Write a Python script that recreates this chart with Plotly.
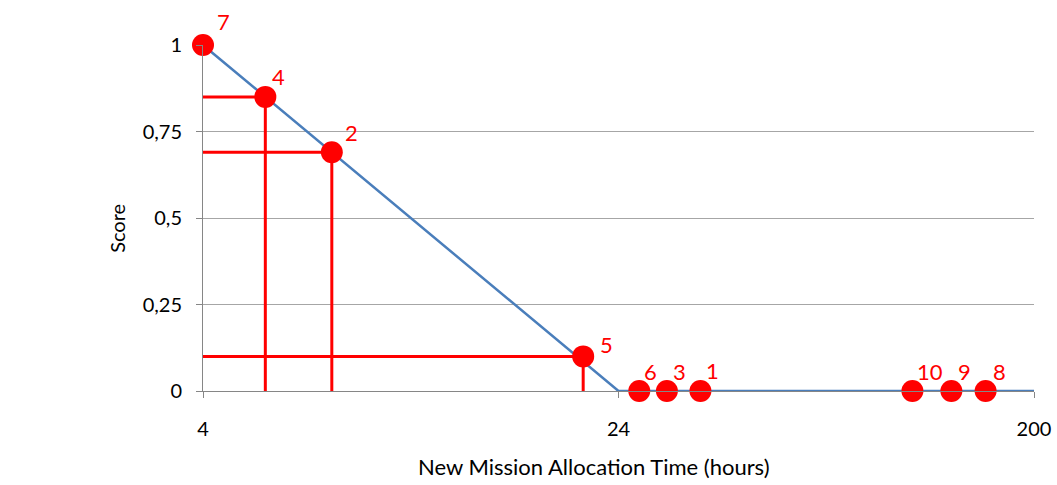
import numpy as np
import plotly.graph_objects as go

# ---- data ----
tick_hours = [4, 24, 200]
tick_labels = ["4", "24", "200"]
y_ticks = [0, 0.25, 0.5, 0.75, 1]
y_tick_labels = ["0", "0,25", "0,5", "0,75", "1"]

curve_hours = [4, 24, 200]
curve_score = [1, 0, 0]

point_ids = ["7", "4", "2", "5", "6", "3", "1", "10", "9", "8"]
point_hours = [4, 7, 10.2, 22.3, 32.8, 44.5, 58.7, 148.5, 165, 179.5]
point_score = [1, 0.85, 0.69, 0.1, 0, 0, 0, 0, 0, 0]

guide_ids = ["4", "2", "5"]

# ---- scale: piecewise axis (4 -> 24 -> 200 equally spaced) ----
tick_pos = list(range(len(tick_hours)))


def pos(h):
    return np.interp(h, tick_hours, tick_pos)


font = "Lato"
RED = "#ff0000"
BLUE = "#4a7ebb"

fig = go.Figure()

# guide lines
gx, gy = [], []
for pid in guide_ids:
    i = point_ids.index(pid)
    px = float(pos(point_hours[i]))
    sc = point_score[i]
    gx += [float(pos(tick_hours[0])), px, None, px, px, None]
    gy += [sc, sc, None, sc, -0.006, None]
fig.add_trace(go.Scatter(x=gx, y=gy, mode="lines",
                         line=dict(color=RED, width=3),
                         hoverinfo="skip", showlegend=False, cliponaxis=False))

# score curve
fig.add_trace(go.Scatter(x=pos(curve_hours), y=curve_score, mode="lines",
                         line=dict(color=BLUE, width=2.5),
                         showlegend=False, cliponaxis=False))

# points
fig.add_trace(go.Scatter(x=pos(point_hours), y=point_score, mode="markers",
                         marker=dict(color=RED, size=22),
                         showlegend=False, cliponaxis=False))

# point labels (offsets in px)
offsets = {"7": (20, 24), "4": (13, 20), "2": (20, 20), "5": (23, 12),
           "6": (11, 20), "3": (13, 20), "1": (12, 21), "10": (18, 20),
           "9": (13, 20), "8": (14, 20)}
for pid, h, s in zip(point_ids, point_hours, point_score):
    dx, dy = offsets[pid]
    fig.add_annotation(x=float(pos(h)), y=s, text=pid, showarrow=False,
                       xshift=dx, yshift=dy,
                       font=dict(family=font, size=22, color=RED))

fig.add_annotation(text="New Mission Allocation Time (hours)",
                   xref="paper", yref="paper", x=0.47, xanchor="center",
                   y=-0.219, yanchor="middle", showarrow=False,
                   font=dict(family=font, size=22, color="#000000"))
fig.add_annotation(text="Score", xref="paper", yref="paper",
                   x=-0.103, xanchor="center", y=0.47, yanchor="middle",
                   textangle=-90, showarrow=False,
                   font=dict(family=font, size=20, color="#000000"))

fig.update_layout(
    width=1057, height=485,
    margin=dict(l=203, r=23, t=45, b=94),
    paper_bgcolor="white", plot_bgcolor="white",
    font=dict(family=font, size=20, color="#000000"),
    xaxis=dict(range=[tick_pos[0], tick_pos[-1]], tickvals=tick_pos, ticktext=tick_labels,
               showgrid=False, zeroline=False, showline=True, linecolor="#868686",
               linewidth=1, ticks="outside", ticklen=6, tickcolor="#868686",
               ticklabelstandoff=14, automargin=False),
    yaxis=dict(range=[0, 1], tickvals=y_ticks, ticktext=y_tick_labels,
               showgrid=True, gridcolor="#a6a6a6", gridwidth=1, zeroline=False,
               showline=True, linecolor="#868686", linewidth=1,
               ticks="outside", ticklen=6, tickcolor="#868686",
               ticklabelstandoff=10, automargin=False),
)

fig.write_html(
    "out.html",
    config={"displayModeBar": False},
    post_script="document.body.style.margin='0';document.body.style.overflow='hidden';",
)
